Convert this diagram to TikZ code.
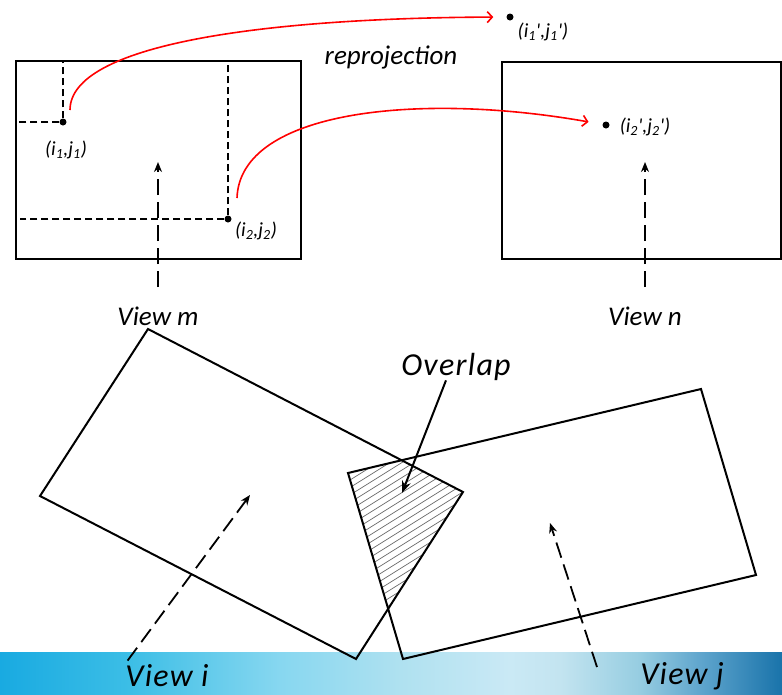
\documentclass[tikz,border=0pt]{standalone}
\usepackage{fontspec}
\setmainfont{Carlito}
\newfontfamily\spacedfont{Carlito}[LetterSpace=4]
\usepackage{tikz}
\usetikzlibrary{arrows.meta,positioning}

\definecolor{bara}{RGB}{25,170,225}
\definecolor{barb}{RGB}{60,190,230}
\definecolor{barc}{RGB}{135,215,240}
\definecolor{bard}{RGB}{175,225,240}
\definecolor{bare}{RGB}{202,233,245}
\definecolor{barf}{RGB}{195,228,240}
\definecolor{barg}{RGB}{150,205,225}
\definecolor{barh}{RGB}{95,165,205}
\definecolor{bari}{RGB}{25,115,170}
\pgfdeclarehorizontalshading{viewbar}{100bp}{color(0bp)=(bara); color(25bp)=(bara); color(33.3bp)=(barb); color(42.9bp)=(barc); color(50.6bp)=(bard); color(57.6bp)=(bare); color(60.8bp)=(barf); color(65.9bp)=(barg); color(69.8bp)=(barh); color(75bp)=(bari); color(100bp)=(bari)}

\begin{document}
\begin{tikzpicture}[x=1pt, y=-1pt,
frame/.style={draw, line width=2pt},
guide/.style={line width=1.8pt, dash pattern=on 7pt off 4pt},
viewarrow/.style={line width=1.8pt, dash pattern=on 16pt off 7pt, -{Stealth[length=10pt,width=8pt]}},
ovarrow/.style={line width=2pt, -{Stealth[length=12pt,width=9pt]}},
reproj/.style={red, line width=1.6pt, -{Straight Barb[length=5pt,width=11pt]}},
dot/.style={circle, fill, inner sep=0pt, minimum size=7pt},
lbl/.style={font=\fontsize{27}{30}\selectfont\itshape, inner sep=0pt},
biglbl/.style={font=\spacedfont\fontsize{32}{35}\selectfont\itshape, inner sep=0pt},
small/.style={font=\fontsize{20}{22}\selectfont\itshape, inner sep=0pt},
hatch/.style={black!60, line width=0.7pt}
]
\useasboundingbox (0,0) rectangle (782,694);
\shade[shading=viewbar] (0,652) rectangle (782,694);

% the two views on top
\node[frame, minimum width=285pt, minimum height=198pt] (boxm) at (158.5,160) {};
\node[frame, minimum width=279pt, minimum height=197pt] (boxn) at (641.5,160.5) {};

\node[dot] (p1) at (63,122) {};
\node[dot] (p2) at (228,219) {};
\node[small] (p1lbl) at (66,150) {(i\textsubscript{1},j\textsubscript{1})};
\node[small] (p2lbl) at (256,231) {(i\textsubscript{2},j\textsubscript{2})};
\draw[guide] (p1) -- (p1 |- boxm.north);
\draw[guide] (p1) -- (p1 -| boxm.west);
\draw[guide] (p2) -- (p2 |- boxm.north);
\draw[guide] (p2) -- ([xshift=5pt]p2 -| boxm.west);

\node[dot] (q1) at (510,17) {};
\node[dot] (q2) at (606,125) {};
\node[small] (q1lbl) at (543,32) {(i\textsubscript{1}\textquotesingle,j\textsubscript{1}\textquotesingle)};
\node[small] (q2lbl) at (645,127) {(i\textsubscript{2}\textquotesingle,j\textsubscript{2}\textquotesingle)};

\node[lbl, anchor=base] (rp) at (391,64) {reprojection};
\coordinate (r1) at (70,110);
\coordinate (r2) at (237,198);
\draw[reproj, shorten >=13pt] (r1) .. controls (70,45) and (260,18) .. (q1);
\draw[reproj, shorten >=14pt] (r2) .. controls (240,110) and (420,92) .. (q2);

\node[lbl, anchor=base] (vm) at (158,325) {View m};
\node[lbl, anchor=base] (vn) at (645,325) {View n};
\coordinate (vmtip) at (158,162);
\coordinate (vntip) at (645,162);
\draw[viewarrow, shorten <=19pt] (vm.north) -- (vmtip);
\draw[viewarrow, shorten <=19pt] (vn.north) -- (vntip);

% the two overlapping views below
\coordinate (ia) at (148,329);
\coordinate (ib) at (463,492);
\coordinate (ic) at (356,659);
\coordinate (id) at (40,496);
\coordinate (ja) at (348,473);
\coordinate (jb) at (701,389);
\coordinate (jc) at (756,575);
\coordinate (jd) at (403,659);
\coordinate (ov2) at (401.6,460.2);
\coordinate (ov4) at (388.2,608.8);

\begin{scope}
\clip (ja) -- (ov2) -- (ib) -- (ov4) -- cycle;
\foreach \k in {0,...,32}
  \draw[hatch] (330,440+7.5*\k) -- ++(160,-100);
\end{scope}

\draw[frame, line join=miter] (ia) -- (ib) -- (ic) -- (id) -- cycle;
\draw[frame, line join=miter] (ja) -- (jb) -- (jc) -- (jd) -- cycle;

\node[biglbl, anchor=base] (ov) at (456,375) {Overlap};
\coordinate (ovtip) at (402,493);
\draw[ovarrow] ([xshift=-10pt]ov.south) -- (ovtip);

\node[biglbl, anchor=base] (vi) at (167,686) {View i};
\node[biglbl, anchor=base] (vj) at (682,684) {View j};
\coordinate (vitip) at (250,495);
\coordinate (vjtail) at (597,667);
\coordinate (vjtip) at (550,523);
\draw[viewarrow, shorten <=4pt] (vi.north west) -- (vitip);
\draw[viewarrow] (vjtail) -- (vjtip);
\end{tikzpicture}
\end{document}
